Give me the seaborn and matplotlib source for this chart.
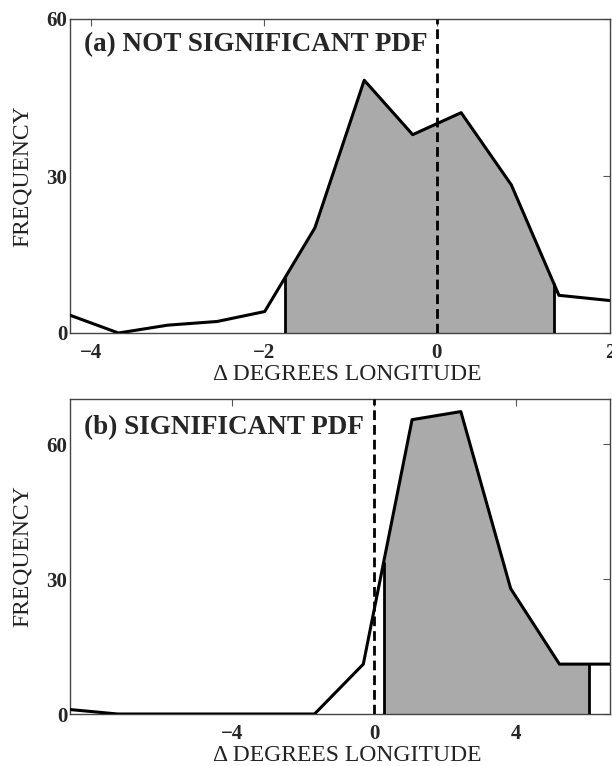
import numpy as np
import pandas as pd
import matplotlib
matplotlib.use("Agg")
import matplotlib.pyplot as plt
import seaborn as sns

# panel (a): not significant PDF
lon_a = [-4.24, -3.68, -3.11, -2.54, -1.99, -1.41, -0.84, -0.28, 0.28, 0.86, 1.41, 2.0]
freq_a = [3.4, 0.0, 1.5, 2.2, 4.1, 20.1, 48.3, 37.9, 42.1, 28.3, 7.2, 6.2]
shade_a = (-1.75, 1.35)

# panel (b): significant PDF
lon_b = [-8.55, -7.2, -5.81, -4.44, -3.07, -1.67, -0.30, 1.07, 2.44, 3.84, 5.21, 6.63]
freq_b = [1.0, 0.0, 0.0, 0.0, 0.0, 0.0, 11.1, 65.5, 67.3, 27.9, 11.1, 11.1]
shade_b = (0.27, 6.03)

sns.set_style("white")
plt.rcParams['font.family'] = ['Liberation Serif', 'DejaVu Serif']

fig = plt.figure(figsize=(6.12, 7.66), dpi=100)
ax_a = fig.add_axes([70/612, 1 - 333/766, 540/612, 314/766])
ax_b = fig.add_axes([70/612, 1 - 714/766, 540/612, 315/766])


def draw_panel(ax, lon, freq, shade, xlim, ylim, xticks, title, ty):
    df = pd.DataFrame({'lon': lon, 'freq': freq})
    lo, hi = shade
    # shaded part of the curve between the bounds
    inner = df[(df['lon'] > lo) & (df['lon'] < hi)]
    xs = np.concatenate([[lo], inner['lon'].values, [hi]])
    ys = np.concatenate([[np.interp(lo, lon, freq)], inner['freq'].values,
                         [np.interp(hi, lon, freq)]])
    ax.fill_between(xs, 0, ys, color='#aaaaaa', lw=0, zorder=1)
    ax.vlines([lo, hi], 0, ys[[0, -1]], color='black', lw=2, zorder=3)
    sns.lineplot(data=df, x='lon', y='freq', ax=ax, color='black', lw=2.2,
                 zorder=4, sort=False)
    ax.axvline(0, color='black', lw=2, ls=(0, (3.5, 1.8)), zorder=5)

    ax.set_xlim(*xlim)
    ax.set_ylim(*ylim)
    ax.set_xticks(xticks)
    ax.set_xticklabels(['\u2212%d' % -t if t < 0 else '%d' % t for t in xticks])
    ax.set_yticks([0, 30, 60])
    ax.tick_params(direction='in', length=5, width=0.8, top=True, right=True,
                   labelsize=15, color='#555555')
    ax.tick_params(axis='x', pad=7)
    ax.tick_params(axis='y', pad=2)
    for lab in ax.get_xticklabels() + ax.get_yticklabels():
        lab.set_fontweight('bold')
    for s in ax.spines.values():
        s.set_color('#444444')
        s.set_linewidth(1.0)
    ax.set_xlabel('\u0394 DEGREES LONGITUDE', fontsize=17, color='#222222')
    ax.xaxis.set_label_coords(0.513, -0.098)
    ax.set_ylabel('FREQUENCY', fontsize=17, labelpad=10, color='#222222')
    ax.text(0.026, ty, title, transform=ax.transAxes, fontsize=19.5,
            fontweight='bold', va='center', ha='left')


draw_panel(ax_a, lon_a, freq_a, shade_a, (-4.24, 2.0), (0, 60), [-4, -2, 0, 2],
           '(a) NOT SIGNIFICANT PDF', 0.918)
draw_panel(ax_b, lon_b, freq_b, shade_b, (-8.54, 6.63), (0, 70.1), [-4, 0, 4],
           '(b) SIGNIFICANT PDF', 0.910)

fig.savefig('out.png', dpi=100)
